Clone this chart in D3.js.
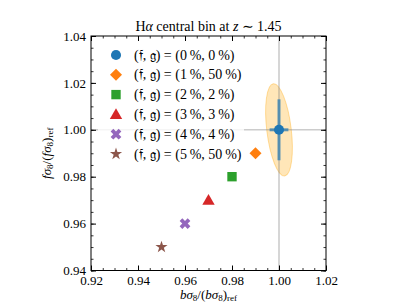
<!DOCTYPE html>
<html>
<head>
<meta charset="utf-8">
<script src="https://cdn.jsdelivr.net/npm/d3@7"></script>
<style>
  body { margin: 0; background: #fff; }
  svg text { font-family: "Liberation Serif", "DejaVu Serif", serif; fill: #000; }
</style>
</head>
<body>
<div id="chart"></div>
<script>
"use strict";

// chart data
const bRatio = [1.00, 0.99, 0.98, 0.97, 0.96, 0.95];
const fRatio = [1.00, 0.99, 0.98, 0.97, 0.96, 0.95];
const fracF = ["0", "1", "2", "3", "4", "5"];
const fracG = ["0", "50", "2", "3", "4", "50"];
const colors = ["#1f77b4", "#ff7f0e", "#2ca02c", "#d62728", "#9467bd", "#8c564b"];
const shapes = ["circle", "diamond", "square", "triangle", "x", "star"];

// reference point: error bars and the contour ellipse (semi axes, tilt)
const refErrB = 0.004;
const refErrF = 0.013;
const ellipseB = 0.0052;
const ellipseF = 0.0198;
const ellipseTilt = -7;

const xTicks = [0.92, 0.94, 0.96, 0.98, 1.00, 1.02];
const yTicks = [0.94, 0.96, 0.98, 1.00, 1.02, 1.04];

const W = 407, H = 305;
const mLeft = 91, mRight = 326, mTop = 36, mBottom = 270.5;

const svg = d3.select("#chart").append("svg")
	.attr("width", W)
	.attr("height", H);

const x = d3.scaleLinear().domain([0.92, 1.02]).range([mLeft, mRight]);
const y = d3.scaleLinear().domain([0.94, 1.04]).range([mBottom, mTop]);

const minorX = d3.range(0.92, 1.0201, 0.005);
const minorY = d3.range(0.94, 1.0401, 0.005);

// contour ellipse
let cx = x(bRatio[0]), cy = y(fRatio[0]);
svg.append("ellipse")
	.attr("cx", 0).attr("cy", 0)
	.attr("rx", x(bRatio[0] + ellipseB) - cx)
	.attr("ry", cy - y(fRatio[0] + ellipseF))
	.attr("transform", "translate(" + cx + "," + cy + ") rotate(" + ellipseTilt + ")")
	.style("fill", "#ffa500")
	.style("fill-opacity", 0.28)
	.style("stroke", "#ffa500")
	.style("stroke-opacity", 0.35)
	.style("stroke-width", 1);

// reference lines
svg.append("line")
	.attr("x1", x(1.0)).attr("x2", x(1.0))
	.attr("y1", mTop).attr("y2", mBottom)
	.style("stroke", "#808080").style("stroke-opacity", 0.4).style("stroke-width", 1.6);
svg.append("line")
	.attr("x1", mLeft).attr("x2", mRight)
	.attr("y1", y(1.0)).attr("y2", y(1.0))
	.style("stroke", "#808080").style("stroke-opacity", 0.4).style("stroke-width", 1.6);

function marker(g, shape, color, px, py, alpha) {
	let s;
	if (shape == "circle") s = d3.symbol(d3.symbolCircle, 80)();
	else if (shape == "diamond") s = d3.symbol(d3.symbolSquare, 72)();
	else if (shape == "square") s = d3.symbol(d3.symbolSquare, 88)();
	else if (shape == "triangle") s = d3.symbol(d3.symbolTriangle, 66)();
	else if (shape == "x") s = d3.symbol(d3.symbolCross, 72)();
	else s = d3.symbol(d3.symbolStar, 46)();
	let rot = (shape == "diamond" || shape == "x") ? 45 : 0;
	let dy = shape == "triangle" ? 1 : 0;
	g.append("path")
		.attr("d", s)
		.attr("transform", "translate(" + px + "," + (py + dy) + ") rotate(" + rot + ")")
		.style("fill", color)
		.style("opacity", alpha);
}

// data points
let pts = svg.append("g");
for (let i = 0; i < bRatio.length; i++) {
	marker(pts, shapes[i], colors[i], x(bRatio[i]), y(fRatio[i]), 1);
}

// error bars of the reference point
let errG = svg.append("g").style("opacity", 0.7);
errG.append("line")
	.attr("x1", x(bRatio[0] - refErrB)).attr("x2", x(bRatio[0] + refErrB))
	.attr("y1", cy).attr("y2", cy)
	.style("stroke", colors[0]).style("stroke-width", 3);
errG.append("line")
	.attr("x1", cx).attr("x2", cx)
	.attr("y1", y(fRatio[0] - refErrF)).attr("y2", y(fRatio[0] + refErrF))
	.style("stroke", colors[0]).style("stroke-width", 3);

// axes, ticks pointing inward on all four sides
function addAxis(axisFn, scale, ticks, minor, transform, labels) {
	let g = svg.append("g").attr("transform", transform);
	g.call(axisFn(scale).tickValues(minor).tickSize(-2.5).tickFormat(""));
	g.selectAll(".domain").remove();
	g.selectAll(".tick line").style("stroke-width", 0.8);
	let g2 = svg.append("g").attr("transform", transform);
	g2.call(axisFn(scale).tickValues(ticks).tickSize(-5).tickPadding(5)
		.tickFormat(labels ? d3.format(".2f") : ""));
	g2.selectAll(".domain").remove();
	g2.selectAll("text")
		.style("font-family", "'Liberation Serif', serif")
		.style("font-size", "13px");
	return g2;
}
addAxis(d3.axisBottom, x, xTicks, minorX, "translate(0," + mBottom + ")", true);
addAxis(d3.axisTop, x, xTicks, minorX, "translate(0," + mTop + ")", false);
addAxis(d3.axisLeft, y, yTicks, minorY, "translate(" + mLeft + ",0)", true);
addAxis(d3.axisRight, y, yTicks, minorY, "translate(" + mRight + ",0)", false);

svg.append("rect")
	.attr("x", mLeft).attr("y", mTop)
	.attr("width", mRight - mLeft).attr("height", mBottom - mTop)
	.style("fill", "none").style("stroke", "#000").style("stroke-width", 1);

// legend
let leg = svg.append("g");
leg.append("rect")
	.attr("x", 98).attr("y", 43)
	.attr("width", 146).attr("height", 122)
	.attr("rx", 2)
	.style("fill", "#fff").style("fill-opacity", 0.8);
for (let i = 0; i < bRatio.length; i++) {
	let ly = 55 + i * 19.8;
	marker(leg, shapes[i], colors[i], 116, ly, 1);
	leg.append("text")
		.attr("x", 134).attr("y", ly + 4.5)
		.style("font-size", "14px")
		.text("(\u{1D523}, \u{1D524}) = (" + fracF[i] + "\u2009%, " + fracG[i] + "\u2009%)");
}

// title
let title = svg.append("text")
	.attr("x", (mLeft + mRight) / 2).attr("y", 31)
	.attr("text-anchor", "middle")
	.style("font-size", "14px");
title.append("tspan").text("H");
title.append("tspan").style("font-style", "italic").text("\u03B1");
title.append("tspan").text(" central bin at ");
title.append("tspan").style("font-style", "italic").text("z");
title.append("tspan").text(" \u223C 1.45");

// axis labels
function ratioLabel(t, v) {
	t.append("tspan").style("font-style", "italic").text(v + "\u03C3");
	t.append("tspan").attr("baseline-shift", "-25%").style("font-size", "9px").text("8");
	t.append("tspan").text("/(");
	t.append("tspan").style("font-style", "italic").text(v + "\u03C3");
	t.append("tspan").attr("baseline-shift", "-25%").style("font-size", "9px").text("8");
	t.append("tspan").text(")");
	t.append("tspan").attr("baseline-shift", "-25%").style("font-size", "9px").text("ref");
}
let xl = svg.append("text")
	.attr("x", (mLeft + mRight) / 2).attr("y", 299)
	.attr("text-anchor", "middle")
	.style("font-size", "13px");
ratioLabel(xl, "b");
let yl = svg.append("text")
	.attr("transform", "translate(51," + (mTop + mBottom) / 2 + ") rotate(-90)")
	.attr("text-anchor", "middle")
	.style("font-size", "13px");
ratioLabel(yl, "f");
</script>
</body>
</html>
